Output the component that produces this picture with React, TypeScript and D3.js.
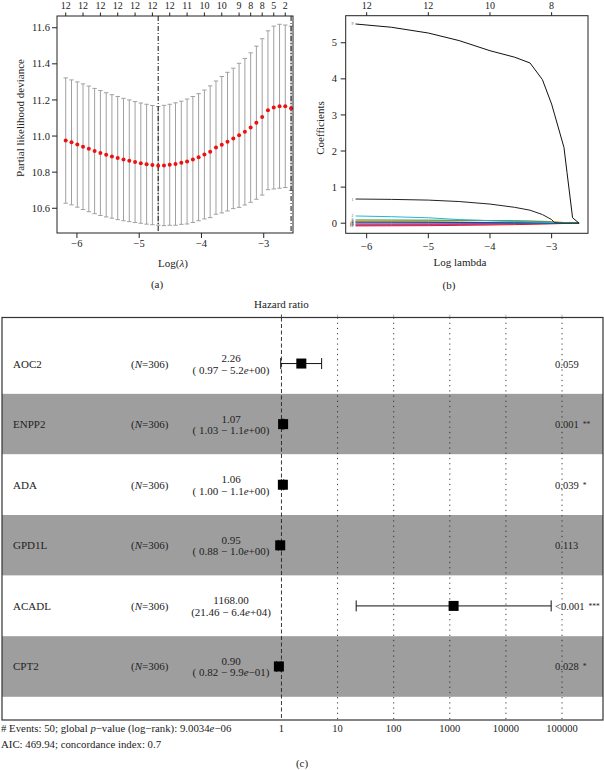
import React from "react";
import * as d3 from "d3";

const FONT = "'Liberation Serif', 'DejaVu Serif', serif";

// ---- panel (a): cross-validation curve ----
const logLambda = [
  -6.18, -6.087, -5.994, -5.902, -5.809, -5.716, -5.623, -5.53, -5.438, -5.345,
  -5.252, -5.159, -5.066, -4.974, -4.881, -4.788, -4.695, -4.602, -4.51, -4.417,
  -4.324, -4.231, -4.138, -4.046, -3.953, -3.86, -3.767, -3.674, -3.582, -3.489,
  -3.396, -3.303, -3.21, -3.118, -3.025, -2.932, -2.839, -2.746, -2.654, -2.561,
];
const cvMean = [
  10.975, 10.965, 10.953, 10.941, 10.929, 10.917, 10.906, 10.896, 10.887, 10.878,
  10.87, 10.863, 10.856, 10.85, 10.844, 10.839, 10.835, 10.837, 10.841, 10.845,
  10.852, 10.859, 10.87, 10.883, 10.898, 10.913, 10.936, 10.952, 10.969, 10.987,
  11.004, 11.024, 11.047, 11.074, 11.106, 11.143, 11.158, 11.165, 11.165, 11.154,
];
const cvSd = [
  0.347, 0.346, 0.347, 0.348, 0.348, 0.347, 0.346, 0.344, 0.342, 0.341,
  0.339, 0.337, 0.335, 0.333, 0.332, 0.33, 0.329, 0.333, 0.335, 0.339,
  0.341, 0.346, 0.349, 0.352, 0.357, 0.365, 0.369, 0.378, 0.384, 0.389,
  0.399, 0.406, 0.414, 0.424, 0.433, 0.44, 0.451, 0.454, 0.45, 0.455,
];
const lambdaMinIdx = 16;
const lambda1seIdx = 39;
const nzTickIdx = [0, 3, 6, 9, 12, 15, 18, 21, 24, 27, 30, 32, 34, 36, 38];
const nzTickLabels = ["12", "12", "12", "12", "12", "12", "12", "11", "10", "10", "9", "8", "8", "5", "2"];
const aXTicks = [-6, -5, -4, -3];
const aYTicks = [10.6, 10.8, 11.0, 11.2, 11.4, 11.6];

// ---- panel (b): coefficient paths ----
const coefLogLambda = [-6.18, -5.6, -5.0, -4.5, -4.0, -3.6, -3.35, -3.15, -3.0, -2.95, -2.8, -2.75, -2.66, -2.555];
const coefLabels = ["9", "1", "2", "8", "3", "6", "4", "5", "7", "10", "11", "12"];
const coefValues = [
  [5.52, 5.43, 5.27, 5.06, 4.78, 4.6, 4.44, 3.98, 3.3, 3.0, 2.1, 1.4, 0.15, 0],
  [0.67, 0.66, 0.64, 0.6, 0.53, 0.44, 0.36, 0.24, 0.1, 0.01, 0, 0, 0, 0],
  [0.2, 0.18, 0.15, 0.1, 0.07, 0.05, 0.04, 0.03, 0.02, 0.015, 0.005, 0, 0, 0],
  [0.09, 0.088, 0.085, 0.08, 0.075, 0.065, 0.055, 0.045, 0.03, 0.025, 0.01, 0.005, 0, 0],
  [0.055, 0.058, 0.06, 0.065, 0.068, 0.065, 0.06, 0.055, 0.045, 0.04, 0.02, 0.01, 0.002, 0],
  [0.03, 0.028, 0.025, 0.02, 0.015, 0.01, 0.008, 0.005, 0.003, 0.002, 0, 0, 0, 0],
  [0.045, 0.04, 0.035, 0.025, 0.015, 0.01, 0.005, 0.003, 0, 0, 0, 0, 0, 0],
  [-0.02, -0.02, -0.018, -0.015, -0.012, -0.01, -0.008, -0.005, -0.003, -0.002, 0, 0, 0, 0],
  [-0.075, -0.072, -0.068, -0.06, -0.05, -0.04, -0.032, -0.025, -0.018, -0.015, -0.008, -0.005, -0.002, 0],
  [-0.045, -0.042, -0.038, -0.03, -0.02, -0.012, -0.008, -0.004, 0, 0, 0, 0, 0, 0],
  [0.01, 0.01, 0.008, 0.006, 0.004, 0.002, 0, 0, 0, 0, 0, 0, 0, 0],
  [-0.055, -0.05, -0.045, -0.035, -0.025, -0.015, -0.01, -0.005, 0, 0, 0, 0, 0, 0],
];
const coefColors = ["#111111", "#222222", "#25b4d6", "#2e9a3c", "#f08a1c", "#1f3f99", "#169aa0", "#8e44ad", "#e0161c", "#d62ba0", "#7f7f7f", "#8c564b"];
const bXTicks = [-6, -5, -4, -3];
const bYTicks = [0, 1, 2, 3, 4, 5];
const bTopTicks = [-6, -5, -4, -3];
const bTopLabels = ["12", "12", "10", "8"];

// ---- panel (c): forest plot ----
const genes = ["AOC2", "ENPP2", "ADA", "GPD1L", "ACADL", "CPT2"];
const nObs = [306, 306, 306, 306, 306, 306];
const hr = [2.26, 1.07, 1.06, 0.95, 1168.0, 0.9];
const ciLow = [0.97, 1.03, 1.0, 0.88, 21.46, 0.82];
const ciHigh = [5.2, 1.1, 1.1, 1.0, 64000, 0.99];
const ciLowText = [" 0.97", " 1.03", " 1.00", " 0.88", "21.46", " 0.82"];
const ciHighMant = ["5.2", "1.1", "1.1", "1.0", "6.4", "9.9"];
const ciHighExp = ["+00", "+00", "+00", "+00", "+04", "\u221201"];
const pText = ["0.059", "0.001", "0.039", "0.113", "<0.001", "0.028"];
const pStars = ["", "**", "*", "", "***", "*"];
const hrBreaks = [1, 10, 100, 1000, 10000, 100000];

const minus = (v: number) => String(v).replace("-", "\u2212");

export default function App() {
  // panel a scales
  const xA = d3.scaleLinear().domain([-6.32, -2.53]).range([57, 293]);
  const yA = d3.scaleLinear().domain([10.463, 11.665]).range([233, 16]);
  // panel b scales
  const xB = d3.scaleLinear().domain([-6.34, -2.41]).range([345.7, 588]);
  const yB = d3.scaleLinear().domain([-0.28, 5.75]).range([233.3, 15.7]);
  // panel c scales
  const xF = d3.scaleLog().domain([10 ** -4.98, 10 ** 5.73]).range([2, 603]);
  const yF = d3.scaleLinear().domain([0.117, 6.76]).range([720, 317.5]);

  const coefLine = d3
    .line<number>()
    .x((_, j) => xB(coefLogLambda[j]))
    .y((v) => yB(v));

  const [aL, aR] = xA.range();
  const [aB, aT] = yA.range();
  const [bL, bR] = xB.range();
  const [bB, bT] = yB.range();
  const [fL, fR] = xF.range();
  const [fB, fT] = yF.range();

  return (
    <svg
      width={604}
      height={770}
      style={{ position: "absolute", left: 0, top: 0, background: "#fff" }}
      fontFamily={FONT}
    >
      <rect x={0} y={0} width={604} height={770} fill="#fff" />

      {/* ===== panel (a) ===== */}
      <g>
        {logLambda.map((l, i) => {
          const x = xA(l);
          const up = yA(cvMean[i] + cvSd[i]);
          const lo = yA(cvMean[i] - cvSd[i]);
          return (
            <g key={i} stroke="#a0a0a0" strokeWidth={1}>
              <line x1={x} x2={x} y1={up} y2={lo} />
              <line x1={x - 2.2} x2={x + 2.2} y1={up} y2={up} />
              <line x1={x - 2.2} x2={x + 2.2} y1={lo} y2={lo} />
            </g>
          );
        })}
        {[lambdaMinIdx, lambda1seIdx].map((i) => (
          <line
            key={i}
            x1={xA(logLambda[i])}
            x2={xA(logLambda[i])}
            y1={aT}
            y2={aB}
            stroke="#111"
            strokeWidth={1}
            strokeDasharray="5,2,1,2"
          />
        ))}
        {logLambda.map((l, i) => (
          <circle key={i} cx={xA(l)} cy={yA(cvMean[i])} r={2} fill="#ee1111" />
        ))}
        <rect x={aL} y={aT} width={aR - aL} height={aB - aT} fill="none" stroke="#222" strokeWidth={1} />
        {aXTicks.map((t) => (
          <g key={t}>
            <line x1={xA(t)} x2={xA(t)} y1={aB} y2={aB + 5} stroke="#222" />
            <text x={xA(t)} y={247} fontSize={10.5} textAnchor="middle" fill="#222">
              {minus(t)}
            </text>
          </g>
        ))}
        {aYTicks.map((t) => (
          <g key={t}>
            <line x1={aL - 5} x2={aL} y1={yA(t)} y2={yA(t)} stroke="#222" />
            <text x={50} y={yA(t) + 3.6} fontSize={10.5} textAnchor="end" fill="#222">
              {t.toFixed(1)}
            </text>
          </g>
        ))}
        {nzTickIdx.map((idx, k) => (
          <g key={k}>
            <line x1={xA(logLambda[idx])} x2={xA(logLambda[idx])} y1={aT - 3.5} y2={aT} stroke="#222" />
            <text x={xA(logLambda[idx])} y={8.5} fontSize={10} textAnchor="middle" fill="#222">
              {nzTickLabels[k]}
            </text>
          </g>
        ))}
        <text
          transform={`translate(24,118) rotate(-90)`}
          fontSize={11}
          textAnchor="middle"
          fill="#222"
        >
          Partial likelihood deviance
        </text>
        <text x={173} y={267} fontSize={11} textAnchor="middle" fill="#222">
          Log(<tspan fontStyle="italic">λ</tspan>)
        </text>
        <text x={157} y={288} fontSize={11} textAnchor="middle" fill="#222">
          (a)
        </text>
      </g>

      {/* ===== panel (b) ===== */}
      <g>
        {coefValues
          .map((vals, k) => ({ vals, k }))
          .reverse()
          .map(({ vals, k }) => (
            <path key={k} d={coefLine(vals) || ""} fill="none" stroke={coefColors[k]} strokeWidth={1} />
          ))}
        {coefValues.map((vals, k) => (
          <text
            key={k}
            x={xB(coefLogLambda[0]) - 2}
            y={yB(vals[0]) + 1.5}
            fontSize={4}
            textAnchor="end"
            fill="#555"
          >
            {coefLabels[k]}
          </text>
        ))}
        <rect x={bL} y={bT} width={bR - bL} height={bB - bT} fill="none" stroke="#222" strokeWidth={1} />
        {bXTicks.map((t) => (
          <g key={t}>
            <line x1={xB(t)} x2={xB(t)} y1={bB} y2={bB + 5} stroke="#222" />
            <text x={xB(t)} y={250} fontSize={10.5} textAnchor="middle" fill="#222">
              {minus(t)}
            </text>
          </g>
        ))}
        {bYTicks.map((t) => (
          <g key={t}>
            <line x1={bL - 5} x2={bL} y1={yB(t)} y2={yB(t)} stroke="#222" />
            <text x={337} y={yB(t) + 3.6} fontSize={10.5} textAnchor="end" fill="#222">
              {t}
            </text>
          </g>
        ))}
        {bTopTicks.map((t, k) => (
          <g key={t}>
            <line x1={xB(t)} x2={xB(t)} y1={bT - 3.5} y2={bT} stroke="#222" />
            <text x={xB(t)} y={8.5} fontSize={10} textAnchor="middle" fill="#222">
              {bTopLabels[k]}
            </text>
          </g>
        ))}
        <text transform={`translate(323.5,128) rotate(-90)`} fontSize={11} textAnchor="middle" fill="#222">
          Coefficients
        </text>
        <text x={460} y={266} fontSize={11} textAnchor="middle" fill="#222">
          Log lambda
        </text>
        <text x={449} y={289} fontSize={11} textAnchor="middle" fill="#222">
          (b)
        </text>
      </g>

      {/* ===== panel (c) ===== */}
      <g>
        <text x={xF(1)} y={307.5} fontSize={11} textAnchor="middle" fill="#222">
          Hazard ratio
        </text>
        {genes.map((g, i) => {
          const row = genes.length - i;
          return (
            <rect
              key={g}
              x={fL}
              width={fR - fL}
              y={yF(row + 0.5)}
              height={yF(row - 0.5) - yF(row + 0.5)}
              fill={row % 2 === 1 ? "#9e9e9e" : "#ffffff"}
            />
          );
        })}
        {hrBreaks.map((b) => (
          <g key={b}>
            <line
              x1={xF(b)}
              x2={xF(b)}
              y1={fT}
              y2={fB}
              stroke="#222"
              strokeWidth={b === 1 ? 0.9 : 0.9}
              strokeDasharray={b === 1 ? "4,2.5" : "1.2,4"}
            />
            <line
              x1={xF(b)}
              x2={xF(b)}
              y1={fT - 3}
              y2={fT}
              stroke={b === 1 ? "#222" : "#aaa"}
              strokeWidth={0.8}
            />
            <text x={xF(b)} y={731.5} fontSize={10.5} textAnchor="middle" fill="#222">
              {b}
            </text>
          </g>
        ))}
        {genes.map((g, i) => {
          const row = genes.length - i;
          const y = yF(row);
          return (
            <g key={g}>
              <line x1={xF(ciLow[i])} x2={xF(ciHigh[i])} y1={y} y2={y} stroke="#111" strokeWidth={1} />
              <line x1={xF(ciLow[i])} x2={xF(ciLow[i])} y1={y - 5.5} y2={y + 5.5} stroke="#111" strokeWidth={1} />
              <line x1={xF(ciHigh[i])} x2={xF(ciHigh[i])} y1={y - 5.5} y2={y + 5.5} stroke="#111" strokeWidth={1} />
              <rect x={xF(hr[i]) - 5} y={y - 5} width={10} height={10} fill="#000" />
              <text x={13} y={y + 4} fontSize={11} fill="#222">
                {g}
              </text>
              <text x={131} y={y + 4} fontSize={11} fill="#222">
                (<tspan fontStyle="italic">N</tspan>={nObs[i]})
              </text>
              <text x={231} y={y - 1.5} fontSize={11} textAnchor="middle" fill="#222">
                {hr[i].toFixed(2)}
              </text>
              <text x={231} y={y + 10} fontSize={11} textAnchor="middle" fill="#222" style={{ whiteSpace: "pre" }}>
                {"(" + ciLowText[i] + " \u2212 " + ciHighMant[i]}
                <tspan fontStyle="italic">e</tspan>
                {ciHighExp[i] + ")"}
              </text>
              <text x={555} y={y + 4} fontSize={10.5} fill="#222">
                {pText[i]}
                {pStars[i] && (
                  <tspan dx={4} dy={-1} fontSize={7.5}>
                    {pStars[i]}
                  </tspan>
                )}
              </text>
            </g>
          );
        })}
        <rect x={fL} y={fT} width={fR - fL} height={fB - fT} fill="none" stroke="#333" strokeWidth={1.2} />
        <text x={1} y={731.5} fontSize={10.8} fill="#222">
          # Events: 50; global <tspan fontStyle="italic">p</tspan>{"\u2212value (log\u2212rank): 9.0034"}
          <tspan fontStyle="italic">e</tspan>
          {"\u221206"}
        </text>
        <text x={1} y={747.5} fontSize={10.8} fill="#222">
          AIC: 469.94; concordance index: 0.7
        </text>
        <text x={302} y={767} fontSize={11} textAnchor="middle" fill="#222">
          (c)
        </text>
      </g>
    </svg>
  );
}
